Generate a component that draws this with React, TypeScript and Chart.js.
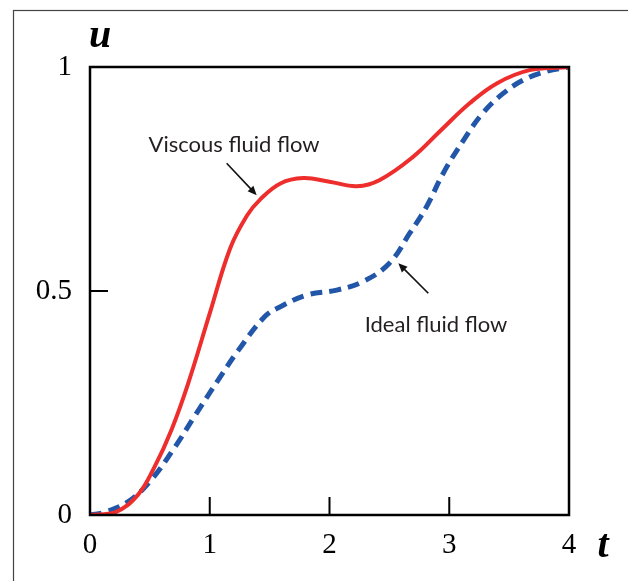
import React, { useEffect, useRef } from "react";
import { Chart, registerables } from "chart.js";

Chart.register(...registerables);

// Viscous fluid flow (red, solid)
const viscousT = [0, 0.21, 0.4, 0.54, 0.68, 0.82, 1.0, 1.17, 1.31, 1.42, 1.59, 1.78, 2.0, 2.23, 2.42, 2.7, 2.92, 3.17, 3.4, 3.67, 3.95, 4];
const viscousU = [0, 0.006, 0.045, 0.108, 0.19, 0.294, 0.45, 0.595, 0.668, 0.704, 0.74, 0.752, 0.744, 0.734, 0.748, 0.8, 0.856, 0.919, 0.964, 0.993, 0.999, 1];

// Ideal fluid flow (blue, dashed)
const idealT = [0, 0.12, 0.32, 0.51, 0.71, 0.87, 1.07, 1.24, 1.46, 1.59, 1.81, 2.06, 2.28, 2.5, 2.67, 2.81, 2.95, 3.12, 3.28, 3.45, 3.62, 3.81, 4];
const idealU = [0, 0.006, 0.03, 0.078, 0.152, 0.219, 0.301, 0.368, 0.443, 0.465, 0.491, 0.502, 0.521, 0.562, 0.629, 0.688, 0.763, 0.837, 0.897, 0.941, 0.971, 0.99, 1];

const xTickMarks = [1, 2, 3];
const yTickMarks = [0.5];
const yTickLabels: Record<string, string> = { "0": "0", "0.5": "0.5", "1": "1" };

// annotations in data coordinates
const viscousLabel = { text: "Viscous fluid flow", t: 1.203, u: 0.81 };
const viscousArrow = { t0: 1.141, u0: 0.785, t1: 1.392, u1: 0.714 };
const idealLabel = { text: "Ideal fluid flow", t: 2.889, u: 0.408 };
const idealArrow = { t0: 2.825, u0: 0.495, t1: 2.575, u1: 0.562 };

const SERIF = "'Liberation Serif', 'Times New Roman', serif";
const SANS = "Lato, 'Noto Sans', sans-serif";

function drawArrow(ctx: CanvasRenderingContext2D, x0: number, y0: number, x1: number, y1: number) {
  const ang = Math.atan2(y1 - y0, x1 - x0);
  const hl = 9;
  const hw = 4;
  ctx.save();
  ctx.strokeStyle = "#111";
  ctx.fillStyle = "#111";
  ctx.lineWidth = 1.6;
  ctx.beginPath();
  ctx.moveTo(x0, y0);
  ctx.lineTo(x1 - Math.cos(ang) * hl * 0.8, y1 - Math.sin(ang) * hl * 0.8);
  ctx.stroke();
  ctx.beginPath();
  ctx.moveTo(x1, y1);
  ctx.lineTo(x1 - Math.cos(ang) * hl + Math.sin(ang) * hw, y1 - Math.sin(ang) * hl - Math.cos(ang) * hw);
  ctx.lineTo(x1 - Math.cos(ang) * hl - Math.sin(ang) * hw, y1 - Math.sin(ang) * hl + Math.cos(ang) * hw);
  ctx.closePath();
  ctx.fill();
  ctx.restore();
}

const decorPlugin = {
  id: "decor",
  beforeDraw(chart: any) {
    const ctx = chart.ctx as CanvasRenderingContext2D;
    ctx.save();
    ctx.fillStyle = "#fff";
    ctx.fillRect(0, 0, chart.width, chart.height);
    ctx.strokeStyle = "#444";
    ctx.lineWidth = 1.2;
    ctx.strokeRect(13.5, 10.5, chart.width + 50, chart.height + 50);
    ctx.restore();
  },
  afterDraw(chart: any) {
    const ctx = chart.ctx as CanvasRenderingContext2D;
    const { left, right, top, bottom } = chart.chartArea;
    const xs = chart.scales.x;
    const ys = chart.scales.y;
    ctx.save();
    // frame
    ctx.strokeStyle = "#000";
    ctx.lineWidth = 2.5;
    ctx.strokeRect(left, top, right - left, bottom - top);
    // inward ticks
    ctx.lineWidth = 2;
    ctx.beginPath();
    xTickMarks.forEach((v) => {
      const px = xs.getPixelForValue(v);
      ctx.moveTo(px, bottom);
      ctx.lineTo(px, bottom - 18);
    });
    yTickMarks.forEach((v) => {
      const py = ys.getPixelForValue(v);
      ctx.moveTo(left, py);
      ctx.lineTo(left + 18, py);
    });
    ctx.stroke();
    // axis titles
    ctx.fillStyle = "#000";
    ctx.font = `italic bold 40px ${SERIF}`;
    ctx.textAlign = "center";
    ctx.textBaseline = "alphabetic";
    ctx.fillText("u", left + 10, top - 20);
    ctx.fillText("t", right + 34, bottom + 42);
    // annotations
    ctx.fillStyle = "#231f20";
    ctx.font = `22px ${SANS}`;
    ctx.fillText(viscousLabel.text, xs.getPixelForValue(viscousLabel.t), ys.getPixelForValue(viscousLabel.u));
    ctx.fillText(idealLabel.text, xs.getPixelForValue(idealLabel.t), ys.getPixelForValue(idealLabel.u));
    ctx.restore();
    drawArrow(ctx, xs.getPixelForValue(viscousArrow.t0), ys.getPixelForValue(viscousArrow.u0), xs.getPixelForValue(viscousArrow.t1), ys.getPixelForValue(viscousArrow.u1));
    drawArrow(ctx, xs.getPixelForValue(idealArrow.t0), ys.getPixelForValue(idealArrow.u0), xs.getPixelForValue(idealArrow.t1), ys.getPixelForValue(idealArrow.u1));
  },
};

export default function App() {
  const ref = useRef<HTMLCanvasElement | null>(null);
  useEffect(() => {
    if (!ref.current) return;
    const chart = new Chart(ref.current, {
      type: "line",
      data: {
        datasets: [
          {
            label: "Viscous fluid flow",
            data: viscousT.map((t, i) => ({ x: t, y: viscousU[i] })),
            borderColor: "#ee2d2d",
            borderWidth: 4,
            pointRadius: 0,
            tension: 0.4,
            fill: false,
          },
          {
            label: "Ideal fluid flow",
            data: idealT.map((t, i) => ({ x: t, y: idealU[i] })),
            borderColor: "#2256a8",
            borderWidth: 5,
            borderDash: [12, 7],
            borderCapStyle: "butt",
            pointRadius: 0,
            tension: 0.4,
            fill: false,
          },
        ],
      },
      options: {
        responsive: false,
        animation: false,
        layout: { padding: { top: 67, right: 59, left: 0, bottom: 0 } },
        plugins: { legend: { display: false }, tooltip: { enabled: false } },
        scales: {
          x: {
            type: "linear",
            min: 0,
            max: 4,
            grid: { display: false, drawTicks: false },
            border: { display: false },
            ticks: {
              stepSize: 1,
              padding: 13,
              color: "#000",
              font: { family: SERIF, size: 29 },
              maxRotation: 0,
            },
            afterFit: (s: any) => {
              s.height = 66;
            },
          },
          y: {
            type: "linear",
            min: 0,
            max: 1,
            grid: { display: false, drawTicks: false },
            border: { display: false },
            ticks: {
              stepSize: 0.5,
              padding: 18,
              color: "#000",
              font: { family: SERIF, size: 29 },
              callback: (v: any) => yTickLabels[String(Number(v))] ?? String(v),
            },
            afterFit: (s: any) => {
              s.width = 90;
            },
          },
        },
      } as any,
      plugins: [decorPlugin],
    });
    return () => chart.destroy();
  }, []);
  return (
    <div style={{ position: "absolute", left: 0, top: 0, width: 628, height: 581 }}>
      <canvas ref={ref} width={628} height={581} style={{ display: "block" }} />
    </div>
  );
}
